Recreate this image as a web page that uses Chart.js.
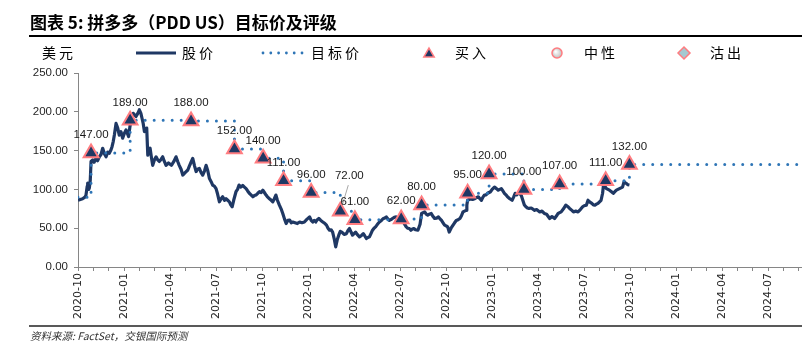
<!DOCTYPE html>
<html><head><meta charset="utf-8">
<script src="https://cdn.jsdelivr.net/npm/chart.js@4"></script>
<style>
html,body{margin:0;padding:0;background:#fff;}
#wrap{position:relative;width:802px;height:350px;overflow:hidden;}
#c{position:absolute;left:0;top:0;}
#title{position:absolute;left:30px;top:12px;font:bold 17px "Noto Sans CJK SC";line-height:20px;color:#000;white-space:nowrap;}
#rule1{position:absolute;left:29px;top:35px;width:773px;height:2px;background:#000;}
#rule2{position:absolute;left:29px;top:325px;width:773px;height:2px;background:#595959;}
#note{position:absolute;left:30px;top:329px;font:italic 10.5px "Noto Sans CJK SC";line-height:14px;color:#333;white-space:nowrap;}
</style></head>
<body>
<div id="wrap">
<canvas id="c" width="802" height="350"></canvas>
<div id="title">图表 5: 拼多多（PDD US）目标价及评级</div>
<div id="rule1"></div>
<div id="rule2"></div>
<div id="note">资料来源: FactSet，交银国际预测</div>
</div>
<script>
// x values: months since 2020-10-01
const tickLabels = ['2020-10','2021-01','2021-04','2021-07','2021-10','2022-01','2022-04','2022-07','2022-10','2023-01','2023-04','2023-07','2023-10','2024-01','2024-04','2024-07'];
const unitLabel = '美元';
const seriesNames = ['股价','目标价','买入','中性','沽出'];

const priceX = [0,0.15,0.3,0.45,0.52,0.6,0.63,0.7,0.74,0.8,0.85,0.96,1.05,1.17,1.28,1.39,1.5,1.61,1.72,1.83,1.94,2.04,2.13,2.22,2.3,2.37,2.48,2.59,2.69,2.8,2.91,3.02,3.13,3.22,3.3,3.38,3.46,3.6,3.78,3.9,4.0,4.1,4.17,4.25,4.33,4.42,4.48,4.55,4.62,4.7,4.78,4.87,4.98,5.09,5.2,5.3,5.42,5.52,5.63,5.74,5.9,6.09,6.25,6.39,6.5,6.6,6.72,6.83,7.0,7.16,7.26,7.37,7.48,7.6,7.7,7.8,7.91,8.02,8.13,8.25,8.35,8.46,8.57,8.68,8.78,8.9,9.0,9.1,9.22,9.33,9.43,9.55,9.65,9.76,9.87,9.96,10.05,10.15,10.3,10.4,10.5,10.62,10.74,10.85,10.96,11.06,11.17,11.28,11.4,11.5,11.6,11.72,11.83,11.94,12.05,12.15,12.26,12.37,12.48,12.6,12.7,12.8,12.9,13.0,13.13,13.24,13.35,13.46,13.57,13.68,13.8,13.9,14.0,14.15,14.3,14.45,14.6,14.76,14.9,15.1,15.2,15.3,15.4,15.5,15.6,15.7,15.83,15.96,16.1,16.2,16.3,16.4,16.5,16.6,16.7,16.8,16.9,17.0,17.1,17.2,17.35,17.5,17.6,17.7,17.8,17.9,18.0,18.1,18.2,18.35,18.5,18.6,18.7,18.8,18.9,19.0,19.1,19.2,19.3,19.4,19.52,19.65,19.78,19.9,20.0,20.1,20.2,20.3,20.4,20.5,20.62,20.75,20.85,20.96,21.07,21.2,21.3,21.4,21.5,21.6,21.7,21.8,21.9,22.0,22.16,22.3,22.4,22.5,22.6,22.7,22.8,22.9,23.03,23.15,23.25,23.38,23.5,23.6,23.7,23.8,23.9,24.0,24.1,24.2,24.32,24.45,24.55,24.66,24.78,24.9,25.0,25.1,25.2,25.3,25.35,25.4,25.5,25.6,25.72,25.85,25.95,26.1,26.2,26.3,26.4,26.5,26.6,26.7,26.8,26.9,27.0,27.15,27.28,27.4,27.5,27.6,27.7,27.8,27.9,28.0,28.15,28.3,28.4,28.5,28.6,28.7,28.8,28.9,29.0,29.1,29.2,29.3,29.4,29.55,29.77,29.9,30.1,30.25,30.4,30.55,30.75,30.9,31.07,31.2,31.3,31.4,31.5,31.65,31.8,31.92,32.05,32.2,32.3,32.45,32.6,32.75,32.9,33.0,33.14,33.25,33.35,33.5,33.6,33.7,33.8,33.9,34.0,34.1,34.2,34.27,34.35,34.45,34.55,34.65,34.78,34.9,35.0,35.1,35.2,35.3,35.4,35.5,35.6,35.73,35.85,35.95];
const priceY = [86,87,88,90,92.6,104,108,100,102,112,136,138,135,140,137,142,145,153,146,142,148,146.6,150,155,162,170,185,179,170,174.5,166,172,176.7,172,168,180,189.6,198,194,198,202.6,198,192,185,174.5,176,179,144,150,153,142,131,138,142,138,136,139,142,136,131,134,131,136,142,136,131,126,118.5,122,125,130,135,140,130,123,126,127,122,118.5,124,131,124,114,110,105.6,104,101,94,84,88,90.5,86,88,86,84,80,77.6,86,97,100,105.6,103,105,103,101,98,95,93,90.5,92,92.7,95,97,96,99,96,92.7,90,88,86,84,88,92.7,86,79.7,75,69,62,56,60,60.4,57,58,57,56,58,57,58,61,64.6,60,58,60,58,61,62.5,60,58,56,54,50,47.4,48,45,36.7,26,35,41,46,45,42,43,47,49.6,45,41,43,45,42,38.8,41,43,40,36.7,38,38.8,43,47.4,50,51.7,55,58,60,62.5,63,64.6,62,60,61,62.5,64,64.6,63,62.5,60,58,55,51.7,50,49.6,47.4,49,49.6,48,47.4,55,69,70,71,68,66.8,68,69,65,62.5,63,64.6,62,60,57,54,53,51.7,45,50,54,57,60,61,62.5,66,71,72,73,80,86,87,88,87,88,89,90.5,88,86,90,92.7,93,95,96,97,100,103,101,99,100,101,98,95,93,90.5,88,86,90,95,93,95,95,92,86,80,77.6,76,75.5,76,73,74,71,72,69,68,62.5,65,62.5,66,69,70,71,75,79.7,78,75.5,73,71,72,71,74,77.6,79,79.7,86,84,82,80,79.7,81,82,84,86,95,107.8,104,101,100,99,97,95,97,99,100,101,102,103,110,107.8,106,105.6];

const targetX = [0,0.85,3.4,7.37,10.2,12.07,13.4,15.2,17.1,18.05,21.07,22.4,25.4,26.8,29.07,31.4,34.4,35.95,47.2];
const targetY = [90,147,189,188,152,140,111,96,72,61,62,80,95,120,100,107,111,132,132];

const ratingX = [0.85,3.4,7.37,10.2,12.07,13.4,15.2,17.1,18.05,21.07,22.4,25.4,26.8,29.07,31.4,34.4,35.95];
const ratingY = [147,189,188,152,140,111,96,72,61,62,80,95,120,100,107,111,132];

const NAVY = '#1F3864', BLUE = '#2E75B6', PINK = '#FF7C80';

const labelOffsets = {7: {dx: 9, dy: -35, leader: true}};

const valueLabels = {
  id: 'valueLabels',
  afterDatasetsDraw(chart) {
    const ctx = chart.ctx;
    const meta = chart.getDatasetMeta(0);
    ctx.save();
    ctx.font = '11.5px "Liberation Sans"';
    ctx.fillStyle = '#1a1a1a';
    ctx.textAlign = 'center';
    ctx.textBaseline = 'middle';
    meta.data.forEach((pt, i) => {
      const o = labelOffsets[i] || {dx: 0, dy: -18};
      const lx = pt.x + o.dx, ly = pt.y + o.dy;
      ctx.fillText(ratingY[i].toFixed(2), lx, ly);
      if (o.leader) {
        ctx.strokeStyle = '#a6a6a6'; ctx.lineWidth = 1;
        ctx.beginPath(); ctx.moveTo(lx - 1, ly + 9); ctx.lineTo(pt.x + 2, pt.y - 6); ctx.stroke();
      }
    });
    ctx.restore();
  }
};

const customLegend = {
  id: 'customLegend',
  afterDraw(chart) {
    const ctx = chart.ctx;
    const y = 53;
    ctx.save();
    ctx.font = '14px "Noto Sans CJK SC"';
    ctx.letterSpacing = '3px';
    ctx.textBaseline = 'middle';
    ctx.fillStyle = '#000';
    ctx.fillText(unitLabel, 42, y);
    ctx.strokeStyle = NAVY; ctx.lineWidth = 3;
    ctx.beginPath(); ctx.moveTo(136, y); ctx.lineTo(176, y); ctx.stroke();
    ctx.fillText(seriesNames[0], 182, y);
    ctx.fillStyle = BLUE;
    for (let k = 0; k < 6; k++) { ctx.beginPath(); ctx.arc(263 + k * 7.8, y, 1.4, 0, Math.PI * 2); ctx.fill(); }
    ctx.fillStyle = '#000';
    ctx.fillText(seriesNames[1], 311, y);
    const tx = 429, r = 6;
    ctx.beginPath();
    for (let k = 0; k < 3; k++) { const a = k * 2 * Math.PI / 3; const px = tx + Math.sin(a) * r, py = y + 1 - Math.cos(a) * r; k ? ctx.lineTo(px, py) : ctx.moveTo(px, py); }
    ctx.closePath(); ctx.fillStyle = NAVY; ctx.fill(); ctx.strokeStyle = PINK; ctx.lineWidth = 1.5; ctx.stroke();
    ctx.fillStyle = '#000';
    ctx.fillText(seriesNames[2], 455, y);
    const g = ctx.createRadialGradient(555.5, y - 1.5, 0.5, 557, y, 5);
    g.addColorStop(0, '#ffffff'); g.addColorStop(1, '#bfbfbf');
    ctx.beginPath(); ctx.arc(557, y, 5, 0, Math.PI * 2); ctx.fillStyle = g; ctx.fill();
    ctx.strokeStyle = PINK; ctx.lineWidth = 1.5; ctx.stroke();
    ctx.fillStyle = '#000';
    ctx.fillText(seriesNames[3], 584, y);
    ctx.beginPath(); ctx.moveTo(684, y - 6); ctx.lineTo(690, y); ctx.lineTo(684, y + 6); ctx.lineTo(678, y); ctx.closePath();
    ctx.fillStyle = '#A5C8D0'; ctx.fill(); ctx.strokeStyle = PINK; ctx.lineWidth = 1.5; ctx.stroke();
    ctx.fillStyle = '#000';
    ctx.fillText(seriesNames[4], 710, y);
    ctx.restore();
  }
};

new Chart(document.getElementById('c'), {
  type: 'line',
  data: {
    datasets: [
      {
        label: seriesNames[2],
        data: ratingX.map((x, i) => ({x, y: ratingY[i]})),
        showLine: false,
        pointStyle: 'triangle',
        pointRadius: 8.5,
        backgroundColor: NAVY,
        borderColor: PINK,
        pointBorderWidth: 2,
        clip: false,
        order: 1
      },
      {
        label: seriesNames[1],
        data: targetX.map((x, i) => ({x, y: targetY[i]})),
        stepped: 'before',
        borderColor: BLUE,
        borderWidth: 3,
        borderDash: [0, 9],
        borderCapStyle: 'round',
        pointRadius: 0,
        fill: false,
        order: 2
      },
      {
        label: seriesNames[0],
        data: priceX.map((x, i) => ({x, y: priceY[i]})),
        borderColor: NAVY,
        borderWidth: 3.2,
        borderJoinStyle: 'round',
        pointRadius: 0,
        tension: 0,
        fill: false,
        order: 3
      }
    ]
  },
  options: {
    responsive: false,
    animation: false,
    devicePixelRatio: 1,
    layout: {autoPadding: false, padding: {top: 73, left: 0, right: 0, bottom: 0}},
    plugins: {legend: {display: false}, tooltip: {enabled: false}, title: {display: false}},
    scales: {
      x: {
        type: 'linear', min: 0, max: 47.2,
        afterBuildTicks(s) { const t = []; for (let i = 0; i <= 47; i++) t.push({value: i}); s.ticks = t; },
        afterFit(s) { s.height = 83; s.paddingLeft = 0; s.paddingRight = 0; },
        border: {color: '#868686', width: 1},
        grid: {drawOnChartArea: false, drawTicks: true, tickLength: 4, color: '#868686'},
        ticks: {
          autoSkip: false, minRotation: 90, maxRotation: 90, padding: 2,
          font: {family: 'DejaVu Sans', size: 11}, color: '#262626',
          callback: (v) => (v % 3 === 0 && tickLabels[v / 3]) ? tickLabels[v / 3] : ''
        }
      },
      y: {
        min: 0, max: 250,
        afterFit(s) { s.width = 78; },
        border: {color: '#868686', width: 1},
        grid: {drawOnChartArea: false, drawTicks: true, tickLength: 4, color: '#868686'},
        ticks: {stepSize: 50, padding: 6, font: {family: 'Liberation Sans', size: 11.5}, color: '#262626', callback: (v) => v.toFixed(2)}
      }
    }
  },
  plugins: [valueLabels, customLegend]
});
</script>
</body></html>
